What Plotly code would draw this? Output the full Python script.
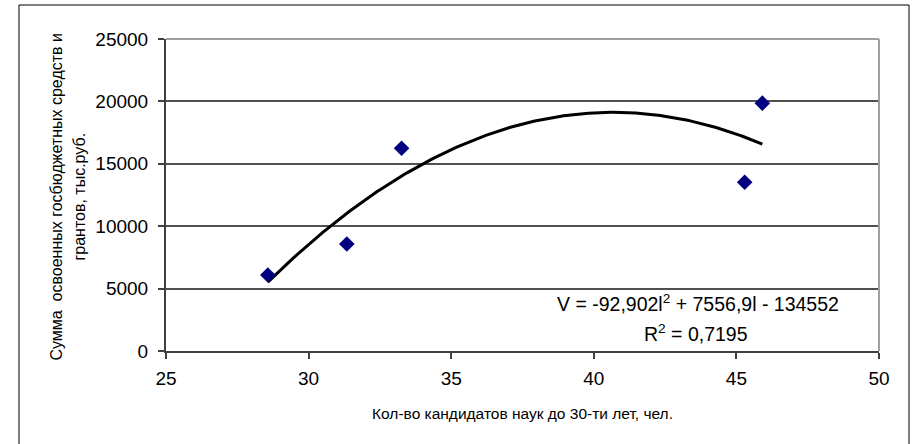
import numpy as np
import plotly.graph_objects as go

# Data
candidates = [28.57, 31.34, 33.26, 45.29, 45.91]          # Кол-во кандидатов наук до 30-ти лет
funds = [6090, 8570, 16240, 13520, 19860]                 # Сумма освоенных средств, тыс.руб.
trend_coeffs = [-92.902, 7556.9, -134552]                 # polynomial trendline (from chart label)
x_ticks = [25, 30, 35, 40, 45, 50]
y_ticks = [0, 5000, 10000, 15000, 20000, 25000]
y_tick_labels = ["0", "5000", "10000", "15000", "20000", "25000"]

FONT = "Liberation Sans, Arial, sans-serif"

tx = np.linspace(min(candidates), max(candidates), 200)
ty = np.polyval(trend_coeffs, tx)

fig = go.Figure()
fig.add_trace(go.Scatter(
    x=tx, y=ty, mode="lines",
    line=dict(color="black", width=3),
    hoverinfo="skip", showlegend=False,
))
fig.add_trace(go.Scatter(
    x=candidates, y=funds, mode="markers",
    marker=dict(symbol="diamond", size=12, color="#000080", line=dict(width=0)),
    showlegend=False,
))

fig.update_layout(
    width=912, height=444,
    margin=dict(l=166, r=33, t=39, b=93),
    paper_bgcolor="white", plot_bgcolor="white",
    font=dict(family=FONT, color="black"),
    xaxis=dict(
        range=[25, 50], tickvals=x_ticks, ticks="outside", ticklen=6, tickwidth=2,
        tickcolor="#404040", showgrid=False, zeroline=False,
        showline=True, linecolor="#404040", linewidth=2,
        tickfont=dict(size=19, family=FONT, color="black"),
        ticklabelstandoff=3,
        title=dict(text="Кол-во кандидатов наук до 30-ти лет, чел.",
                   font=dict(size=15.5, family=FONT, color="black"), standoff=20),
        fixedrange=True,
    ),
    yaxis=dict(
        range=[0, 25000], tickvals=y_ticks, ticktext=y_tick_labels,
        ticks="outside", ticklen=6, tickwidth=2,
        tickcolor="#404040", showgrid=True, gridcolor="#505050", gridwidth=1.5,
        zeroline=False, showline=True, linecolor="#404040", linewidth=2,
        tickfont=dict(size=19, family=FONT, color="black"),
        ticklabelstandoff=6,
        fixedrange=True,
    ),
    shapes=[
        # plot area top and right border (grey)
        dict(type="line", xref="paper", yref="paper", x0=0, x1=1, y0=1, y1=1,
             line=dict(color="#a0a0a0", width=2)),
        dict(type="line", xref="paper", yref="paper", x0=1, x1=1, y0=0, y1=1,
             line=dict(color="#a0a0a0", width=2)),
        # outer chart border
        dict(type="rect", xref="paper", yref="paper",
             x0=-147 / 713, x1=743 / 713, y0=-120 / 312, y1=346 / 312,
             line=dict(color="black", width=1), layer="below"),
    ],
    annotations=[
        dict(text="Сумма  освоенных госбюджетных средств и", xref="paper", yref="paper",
             x=-109 / 713, y=0.495, textangle=-90, showarrow=False,
             xanchor="center", yanchor="middle",
             font=dict(size=16, family=FONT, color="black")),
        dict(text="грантов, тыс.руб.", xref="paper", yref="paper",
             x=-86 / 713, y=0.495, textangle=-90, showarrow=False,
             xanchor="center", yanchor="middle",
             font=dict(size=16, family=FONT, color="black")),
        dict(text="V = -92,902l<sup>2</sup> + 7556,9l - 134552", xref="x", yref="y",
             x=43.66, y=3850, showarrow=False, xanchor="center", yanchor="middle",
             font=dict(size=19.5, family=FONT, color="black")),
        dict(text="R<sup>2</sup> = 0,7195", xref="x", yref="y",
             x=43.6, y=1450, showarrow=False, xanchor="center", yanchor="middle",
             font=dict(size=19.5, family=FONT, color="black")),
    ],
)

fig.write_html("out.html")
